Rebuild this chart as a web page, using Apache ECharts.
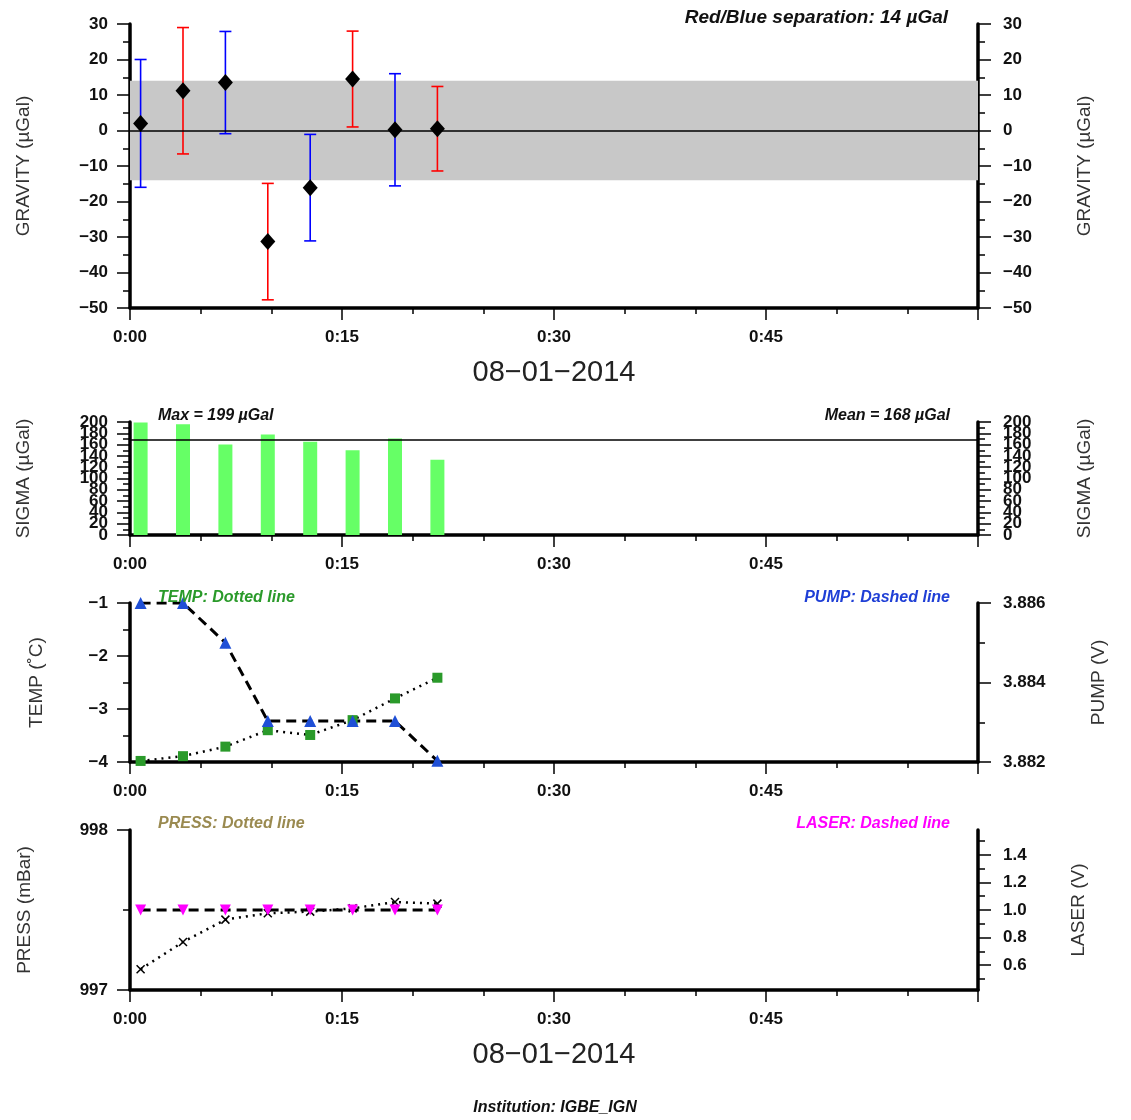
<!DOCTYPE html>
<html>
<head>
<meta charset="utf-8">
<title>Gravity report</title>
<script src="https://cdn.jsdelivr.net/npm/echarts@6/dist/echarts.min.js"></script>
<style>
  html, body { margin: 0; padding: 0; background: #fff; }
  #chart { width: 1131px; height: 1120px; }
</style>
</head>
<body>
<div id="chart"></div>
<script>
// sample times in minutes after 0:00
const times = [0.75, 3.75, 6.75, 9.75, 12.75, 15.75, 18.75, 21.75];
const gravity = [2.0, 11.2, 13.5, -31.3, -16.1, 14.5, 0.2, 0.5];
const gravityErr = [18.0, 17.8, 14.4, 16.4, 15.0, 13.5, 15.8, 11.9];
const separation = 14;
const sigma = [199, 196, 160, 178, 165, 150, 171, 133];
const sigmaMax = 199;
const sigmaMean = 168;
const sigmaTicksA = [0, 40, 80, 120, 160, 200];
const sigmaTicksB = [20, 60, 100, 140, 180];
const temp = [-3.98, -3.89, -3.71, -3.40, -3.49, -3.21, -2.80, -2.41];
const pump = [3.886, 3.886, 3.8850, 3.88303, 3.88303, 3.88303, 3.88303, 3.88203];
const press = [997.13, 997.30, 997.44, 997.48, 997.49, 997.51, 997.55, 997.54];
const laser = [1.0, 1.0, 1.0, 1.0, 1.0, 1.0, 1.0, 1.0];
const laserTicks = [0.6, 0.8, 1.0, 1.2, 1.4];
const laserMinorTicks = [0.5, 0.7, 0.9, 1.1, 1.3, 1.5];
const dateLabel = '08\u221201\u22122014';
const institution = 'IGBE_IGN';

const FONT = 'Liberation Sans';
const chart = echarts.init(document.getElementById('chart'));
const minus = v => (v < 0 ? '\u2212' + Math.abs(v) : String(v));
const pairs = vals => times.map((t, i) => [t, vals[i]]);

const grids = [[24, 284], [422, 113], [603, 159], [830, 160]];
const black = { color: '#000', width: 1.5 };

function xAxis(gridIndex, withDate) {
  return {
    type: 'value', gridIndex, min: 0, max: 60, interval: 15,
    axisLine: { onZero: false, lineStyle: { color: '#000', width: 3.5 } },
    axisTick: { length: 12, lineStyle: black },
    minorTick: { show: true, splitNumber: 3, length: 6, lineStyle: black },
    minorSplitLine: { show: false },
    splitLine: { show: false },
    axisLabel: {
      showMaxLabel: false, color: '#111', fontSize: 17, fontWeight: 'bold', fontFamily: FONT, margin: 21,
      formatter: v => '0:' + String(v).padStart(2, '0')
    },
    name: withDate ? dateLabel : '',
    nameLocation: 'middle', nameGap: 50,
    nameTextStyle: { fontSize: 29, color: '#222', fontFamily: FONT }
  };
}

function yAxis(gridIndex, position, min, max, interval, name, nameGap, fmt, minor) {
  return {
    type: 'value', gridIndex, position, min, max, interval,
    axisLine: { show: true, onZero: false, lineStyle: { color: '#000', width: 3.5 } },
    axisTick: { show: true, length: 13, lineStyle: black },
    minorTick: { show: minor !== 0, splitNumber: minor || 2, length: 7, lineStyle: black },
    minorSplitLine: { show: false },
    splitLine: { show: false },
    axisLabel: {
      color: '#111', fontSize: 17, fontWeight: 'bold', fontFamily: FONT,
      margin: position === 'left' ? 22 : 25, formatter: fmt || minus,
      showMinLabel: true, showMaxLabel: true, hideOverlap: false
    },
    name, nameLocation: 'middle', nameRotate: 90, nameGap,
    nameTextStyle: { color: '#333', fontSize: 19, fontFamily: FONT }
  };
}

const gravName = 'GRAVITY (\u00b5Gal)';
const sigmaName = 'SIGMA (\u00b5Gal)';

// sigma labels are split over two overlaid axes so that none get dropped
const sigmaAxes = ['left', 'right'].map(pos => {
  const ax = yAxis(1, pos, 0, 200, 20, sigmaName, 97);
  ax.axisLabel.customValues = sigmaTicksA;
  return ax;
});
const sigmaLabelAxes = ['left', 'right'].map(pos => {
  const ax = yAxis(1, pos, 0, 200, 20, '', 0, null, 0);
  ax.axisLine.show = false;
  ax.axisTick.show = false;
  ax.axisLabel.customValues = sigmaTicksB;
  return ax;
});

const laserAxis = yAxis(3, 'right', 0.42, 1.58, null, 'LASER (V)', 91, v => v.toFixed(1), 0);
laserAxis.axisLabel.customValues = laserTicks;
laserAxis.axisTick.customValues = laserTicks;

const laserMinorAxis = yAxis(3, 'right', 0.42, 1.58, null, '', 0, null, 0);
laserMinorAxis.axisLine.show = false;
laserMinorAxis.axisLabel.show = false;
laserMinorAxis.axisTick.length = 7;
laserMinorAxis.axisTick.customValues = laserMinorTicks;

function renderErrorBar(params, api) {
  const x = api.value(0);
  const lo = api.coord([x, api.value(1)]);
  const hi = api.coord([x, api.value(2)]);
  const color = api.value(3) % 2 === 0 ? '#0000ff' : '#ff0000';
  const w = 6;
  const style = { stroke: color, lineWidth: 1.6 };
  return {
    type: 'group',
    children: [
      { type: 'line', shape: { x1: hi[0], y1: hi[1], x2: lo[0], y2: lo[1] }, style },
      { type: 'line', shape: { x1: hi[0] - w, y1: hi[1], x2: hi[0] + w, y2: hi[1] }, style },
      { type: 'line', shape: { x1: lo[0] - w, y1: lo[1], x2: lo[0] + w, y2: lo[1] }, style }
    ]
  };
}

function note(text, x, y, align, fill, size) {
  return {
    type: 'text', x, y, z: 100,
    style: {
      text, fill, textAlign: align, verticalAlign: 'middle',
      font: 'italic bold ' + size + 'px "' + FONT + '"'
    }
  };
}

const option = {
  animation: false,
  backgroundColor: '#fff',
  textStyle: { fontFamily: FONT },
  grid: grids.map(g => ({ left: 130, right: 153, top: g[0], height: g[1] })),
  xAxis: [xAxis(0, true), xAxis(1, false), xAxis(2, false), xAxis(3, true)],
  yAxis: [
    yAxis(0, 'left', -50, 30, 10, gravName, 97),
    yAxis(0, 'right', -50, 30, 10, gravName, 97),
    sigmaAxes[0],
    sigmaAxes[1],
    yAxis(2, 'left', -4, -1, 1, 'TEMP (\u02daC)', 84),
    yAxis(2, 'right', 3.882, 3.886, 0.002, 'PUMP (V)', 111, v => v.toFixed(3)),
    yAxis(3, 'left', 997, 998, 1, 'PRESS (mBar)', 96, v => String(v)),
    laserAxis,
    laserMinorAxis,
    sigmaLabelAxes[0],
    sigmaLabelAxes[1]
  ],
  graphic: [
    note('Red/Blue separation: ' + separation + ' \u00b5Gal', 948, 18, 'right', '#111', 19),
    note('Max = ' + sigmaMax + ' \u00b5Gal', 158, 416, 'left', '#111', 16),
    note('Mean = ' + sigmaMean + ' \u00b5Gal', 950, 416, 'right', '#111', 16),
    note('TEMP: Dotted line', 158, 598, 'left', '#2a9a2a', 16),
    note('PUMP: Dashed line', 950, 598, 'right', '#1f3fd6', 16),
    note('PRESS: Dotted line', 158, 824, 'left', '#9a8a50', 16),
    note('LASER: Dashed line', 950, 824, 'right', '#ff00ff', 16),
    note('Institution: ' + institution, 555, 1108, 'center', '#111', 16)
  ],
  series: [
    {
      type: 'line', xAxisIndex: 0, yAxisIndex: 0, data: [], z: 1, silent: true,
      markArea: {
        silent: true, itemStyle: { color: '#c8c8c8' },
        data: [[{ yAxis: -separation }, { yAxis: separation }]]
      },
      markLine: {
        silent: true, symbol: 'none', label: { show: false },
        lineStyle: { color: '#000', width: 1.5, type: 'solid' },
        data: [{ yAxis: 0 }]
      }
    },
    {
      type: 'custom', xAxisIndex: 0, yAxisIndex: 0, z: 2,
      encode: { x: 0, y: [1, 2] },
      data: times.map((t, i) => [t, gravity[i] - gravityErr[i], gravity[i] + gravityErr[i], i]),
      renderItem: renderErrorBar
    },
    {
      type: 'scatter', xAxisIndex: 0, yAxisIndex: 0, z: 3,
      symbol: 'diamond', symbolSize: [15, 17], itemStyle: { color: '#000', opacity: 1 },
      data: pairs(gravity)
    },
    {
      type: 'bar', xAxisIndex: 1, yAxisIndex: 2, barWidth: 14,
      itemStyle: { color: '#66ff66' },
      data: pairs(sigma),
      markLine: {
        silent: true, symbol: 'none', label: { show: false },
        lineStyle: { color: '#000', width: 1.5, type: 'solid' },
        data: [{ yAxis: sigmaMean }]
      }
    },
    {
      type: 'line', xAxisIndex: 2, yAxisIndex: 4,
      symbol: 'rect', symbolSize: 10, itemStyle: { color: '#2a9a2a' },
      lineStyle: { color: '#000', width: 2.5, type: [2, 5] },
      data: pairs(temp)
    },
    {
      type: 'line', xAxisIndex: 2, yAxisIndex: 5,
      symbol: 'triangle', symbolSize: 12, itemStyle: { color: '#1f4fd6' },
      lineStyle: { color: '#000', width: 3, type: [10, 6] },
      data: pairs(pump)
    },
    {
      type: 'line', xAxisIndex: 3, yAxisIndex: 6,
      symbol: 'path://M0 0L10 10M10 0L0 10', symbolSize: 8,
      itemStyle: { color: '#000', borderColor: '#000', borderWidth: 1.5 },
      lineStyle: { color: '#000', width: 2.5, type: [2, 5] },
      data: pairs(press)
    },
    {
      type: 'line', xAxisIndex: 3, yAxisIndex: 7,
      symbol: 'triangle', symbolRotate: 180, symbolSize: 11, itemStyle: { color: '#ff00ff' },
      lineStyle: { color: '#000', width: 3, type: [10, 6] },
      data: pairs(laser)
    }
  ]
};

chart.setOption(option);
window.addEventListener('resize', chart.resize);
</script>
</body>
</html>
